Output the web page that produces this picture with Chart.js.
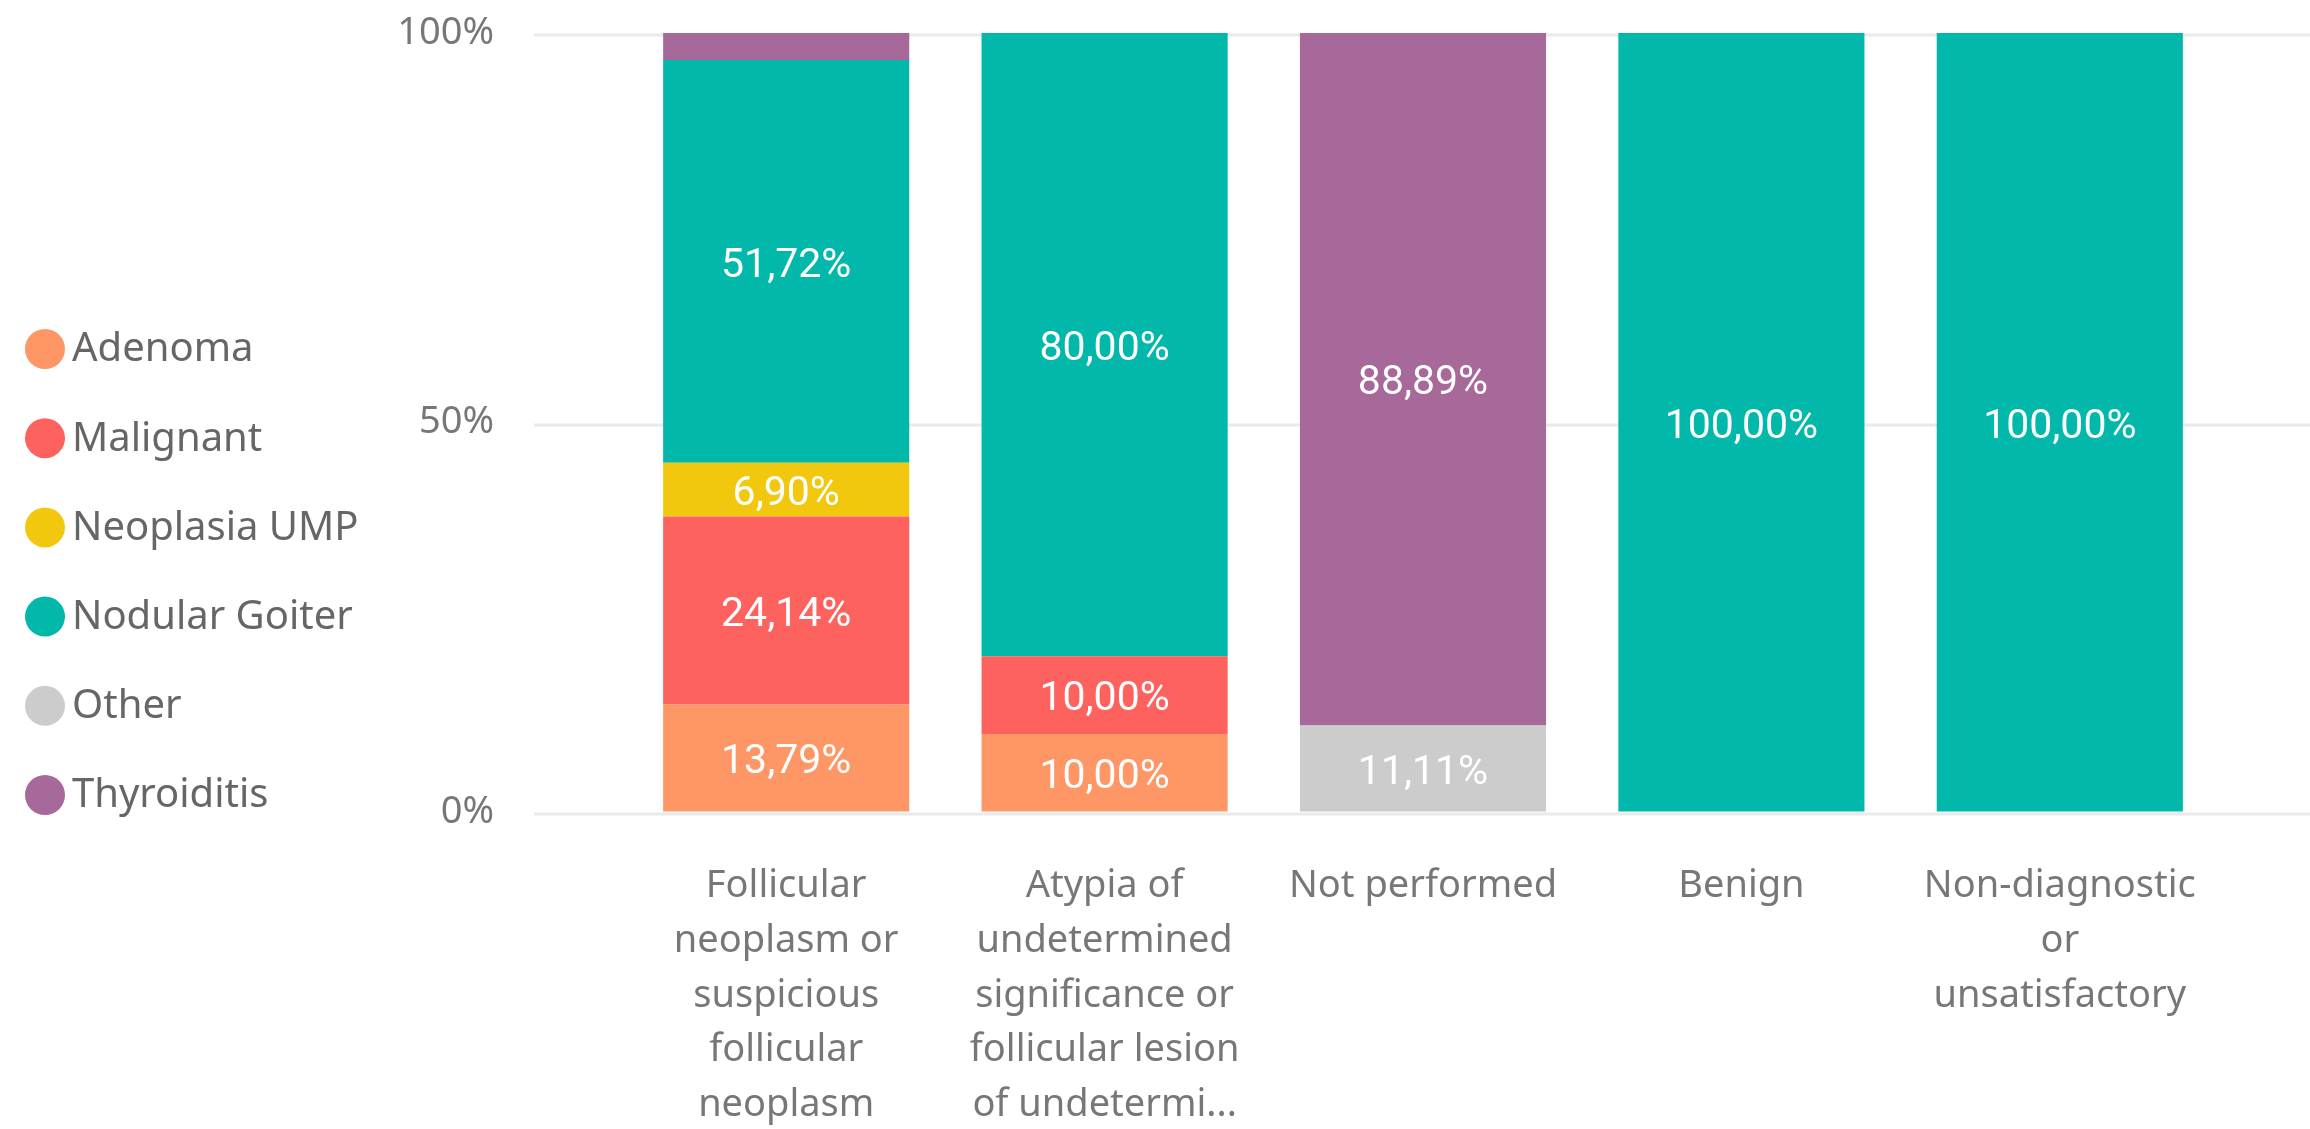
<!DOCTYPE html>
<html>
<head>
<meta charset="utf-8">
<script src="https://cdn.jsdelivr.net/npm/chart.js@4.4.1/dist/chart.umd.min.js"></script>
<style>
  html, body { margin: 0; padding: 0; background: #ffffff; }
  #wrap { width: 2310px; height: 1129px; }
</style>
</head>
<body>
<div id="wrap"><canvas id="c" width="2310" height="1129"></canvas></div>
<script>
const categories = [
  ["Follicular", "neoplasm or", "suspicious", "follicular", "neoplasm"],
  ["Atypia of", "undetermined", "significance or", "follicular lesion", "of undetermi..."],
  "Not performed",
  "Benign",
  ["Non-diagnostic", "or", "unsatisfactory"]
];
const seriesNames = ["Adenoma", "Malignant", "Neoplasia UMP", "Nodular Goiter", "Other", "Thyroiditis"];
const adenoma       = [13.79, 10.00, 0, 0, 0];
const malignant     = [24.14, 10.00, 0, 0, 0];
const neoplasiaUMP  = [6.90, 0, 0, 0, 0];
const nodularGoiter = [51.72, 80.00, 0, 100.00, 100.00];
const other         = [0, 0, 11.11, 0, 0];
const thyroiditis   = [3.45, 0, 88.89, 0, 0];
const yTicks = [0, 50, 100];

const colors = ["#FE9666", "#FD625E", "#F2C80F", "#01B8AA", "#CCCCCC", "#A66999"];
const seriesValues = [adenoma, malignant, neoplasiaUMP, nodularGoiter, other, thyroiditis];

const datasets = seriesNames.map((name, i) => ({
  label: name,
  data: seriesValues[i],
  backgroundColor: colors[i],
  borderWidth: 0,
  categoryPercentage: 1.0,
  barPercentage: 0.773
}));

const gridPlugin = {
  id: 'extendedGrid',
  beforeDatasetsDraw(chart) {
    const y = chart.scales.y;
    const ctx = chart.ctx;
    ctx.save();
    ctx.strokeStyle = '#EAEAEA';
    ctx.lineWidth = 3;
    yTicks.forEach(v => {
      const py = Math.round(y.getPixelForValue(v)) + 2;
      ctx.beginPath();
      ctx.moveTo(534, py);
      ctx.lineTo(2310, py);
      ctx.stroke();
    });
    ctx.restore();
  }
};

const labelPlugin = {
  id: 'segmentLabels',
  afterDatasetsDraw(chart) {
    const ctx = chart.ctx;
    ctx.save();
    ctx.fillStyle = '#FFFFFF';
    ctx.font = '41px Roboto';
    ctx.textAlign = 'center';
    ctx.textBaseline = 'middle';
    chart.data.datasets.forEach((ds, di) => {
      const meta = chart.getDatasetMeta(di);
      meta.data.forEach((el, i) => {
        const v = ds.data[i];
        if (!v || v < 5) return;
        const p = el.getProps(['x', 'y', 'base'], true);
        const txt = v.toFixed(2).replace('.', ',') + '%';
        ctx.fillText(txt, p.x, (p.y + p.base) / 2 + 5);
      });
    });
    ctx.restore();
  }
};

const legendPlugin = {
  id: 'sideLegend',
  afterDraw(chart) {
    const ctx = chart.ctx;
    ctx.save();
    ctx.font = '40px "Noto Sans"';
    ctx.textBaseline = 'middle';
    ctx.textAlign = 'left';
    chart.data.datasets.forEach((ds, i) => {
      const cy = 349 + i * 89.2;
      ctx.fillStyle = ds.backgroundColor;
      ctx.beginPath();
      ctx.arc(45, cy, 20, 0, Math.PI * 2);
      ctx.fill();
      ctx.fillStyle = '#666666';
      ctx.fillText(ds.label, 72, cy + 1);
    });
    ctx.restore();
  }
};

new Chart(document.getElementById('c'), {
  type: 'bar',
  data: { labels: categories, datasets },
  options: {
    responsive: false,
    animation: false,
    layout: { padding: { top: 33, right: 91, bottom: 0, left: 0 } },
    plugins: {
      legend: { display: false },
      tooltip: { enabled: false }
    },
    scales: {
      x: {
        stacked: true,
        grid: { display: false, drawTicks: false },
        border: { display: false },
        ticks: {
          color: '#777777',
          font: { family: 'Noto Sans', size: 38, lineHeight: 1.44 },
          padding: 47,
          maxRotation: 0,
          autoSkip: false
        },
        afterFit(scale) { scale.height = 317; }
      },
      y: {
        stacked: true,
        min: 0,
        max: 100,
        grid: { display: true, drawOnChartArea: false, drawTicks: true, tickLength: 125, color: 'rgba(0,0,0,0)' },
        border: { display: false },
        ticks: {
          stepSize: 50,
          color: '#777777',
          font: { family: 'Noto Sans', size: 38 },
          padding: 8,
          callback: v => v + '%'
        },
        afterFit(scale) {
          scale.width = 627;
          scale.paddingTop = 0;
          scale.paddingBottom = 0;
        }
      }
    }
  },
  plugins: [gridPlugin, labelPlugin, legendPlugin]
});
</script>
</body>
</html>
